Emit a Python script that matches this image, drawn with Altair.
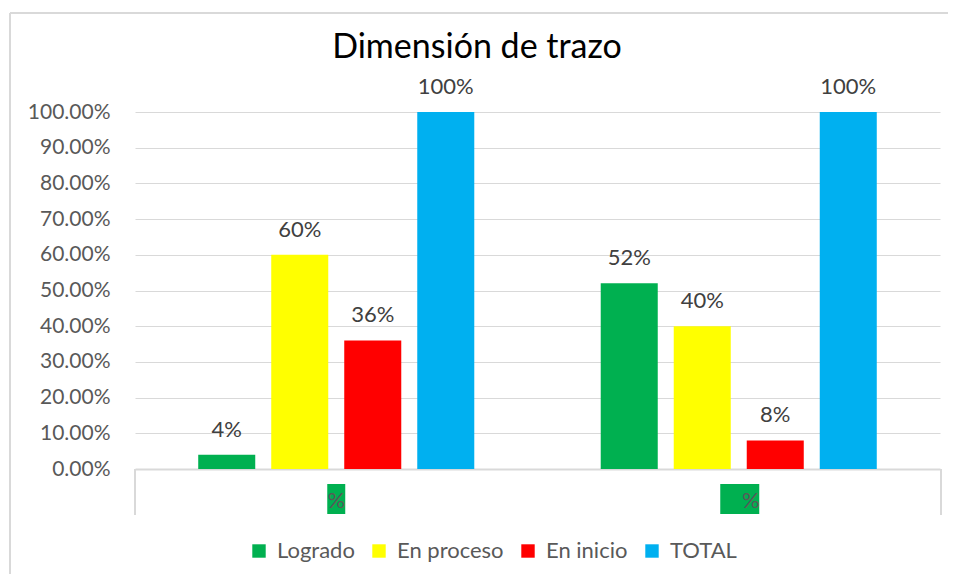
import altair as alt
import pandas as pd

groups = ["G1", "G2"]
group_labels = ["%", "%"]
series = ["Logrado", "En proceso", "En inicio", "TOTAL"]
colors = ["#00B050", "#FFFF00", "#FF0000", "#00B0F0"]
values_g1 = [0.04, 0.60, 0.36, 1.00]
values_g2 = [0.52, 0.40, 0.08, 1.00]
y_ticks = [0.0, 0.1, 0.2, 0.3, 0.4, 0.5, 0.6, 0.7, 0.8, 0.9, 1.0]
title_text = "Dimensión de trazo"

rows = []
for g, vals in zip(groups, [values_g1, values_g2]):
    for s, v in zip(series, vals):
        rows.append({"group": g, "series": s, "value": v})
df = pd.DataFrame(rows)
lab_df = pd.DataFrame({"group": groups, "label": group_labels})

W, H = 805, 357
FONT = "Lato"
GRAY = "#595959"

x_enc = alt.X("group:N", sort=groups,
              scale=alt.Scale(paddingInner=0, paddingOuter=0),
              axis=alt.Axis(title=None, labels=False, ticks=False,
                            domainColor="#d9d9d9", domainWidth=2, grid=False))
xoff = alt.XOffset("series:N", sort=series,
                   scale=alt.Scale(paddingInner=0.219, paddingOuter=0.866))
y_enc = alt.Y("value:Q",
              scale=alt.Scale(domain=[0, 1]),
              axis=alt.Axis(title=None, format=".2%", values=y_ticks,
                            labelOverlap=False, labelFlush=False,
                            domain=False, ticks=False, labelPadding=25,
                            labelFontSize=21, labelColor=GRAY, labelFont=FONT,
                            gridColor="#d9d9d9", gridWidth=1))

base = alt.Chart(df)

bars = base.mark_bar().encode(
    x=x_enc, xOffset=xoff, y=y_enc,
    color=alt.Color("series:N", sort=series,
                    scale=alt.Scale(domain=series, range=colors),
                    legend=alt.Legend(title=None, orient="none", direction="horizontal",
                                      legendX=113, legendY=428, symbolType="square",
                                      symbolSize=180, symbolStrokeWidth=0,
                                      labelFontSize=22, labelColor=GRAY, labelFont=FONT,
                                      labelOffset=7, columnPadding=13)),
)

bar_labels = base.mark_text(baseline="alphabetic", dy=-18, fontSize=22,
                            color="#404040", font=FONT).encode(
    x=x_enc, xOffset=xoff, y=y_enc,
    text=alt.Text("value:Q", format=".0%"),
)

lab_base = alt.Chart(lab_df)
box1 = lab_base.transform_filter(alt.datum.group == groups[0]).mark_bar(
    width=18, color="#00B050").encode(
    x=x_enc, y=alt.value(372), y2=alt.value(402))
box2 = lab_base.transform_filter(alt.datum.group == groups[1]).mark_bar(
    width=39, xOffset=1, color="#00B050").encode(
    x=x_enc, y=alt.value(372), y2=alt.value(402))
txt1 = lab_base.transform_filter(alt.datum.group == groups[0]).mark_text(
    fontSize=22, color=GRAY, font=FONT, baseline="alphabetic").encode(
    x=x_enc, y=alt.value(396), text="label:N")
txt2 = lab_base.transform_filter(alt.datum.group == groups[1]).mark_text(
    fontSize=22, color=GRAY, font=FONT, baseline="alphabetic", dx=12).encode(
    x=x_enc, y=alt.value(396), text="label:N")

one = alt.Data(values=[{}])
end_ticks_l = alt.Chart(one).mark_rule(color="#d9d9d9", strokeWidth=2).encode(
    x=alt.value(0), y=alt.value(H), y2=alt.value(H + 46))
end_ticks_r = alt.Chart(one).mark_rule(color="#d9d9d9", strokeWidth=2).encode(
    x=alt.value(W + 1), y=alt.value(H), y2=alt.value(H + 46))
border_v = alt.Chart(one).mark_rule(color="#d9d9d9", strokeWidth=2).encode(
    x=alt.value(-125), y=alt.value(-99), y2=alt.value(480))
border_h = alt.Chart(one).mark_rule(color="#d9d9d9", strokeWidth=2).encode(
    x=alt.value(-125), x2=alt.value(830), y=alt.value(-99))
title = alt.Chart(one).mark_text(fontSize=34, color="#000000", font=FONT,
                                 baseline="alphabetic", align="center").encode(
    x=alt.value(342), y=alt.value(-54), text=alt.value(title_text))

chart = alt.layer(
    bars, bar_labels, box1, box2, txt1, txt2,
    end_ticks_l, end_ticks_r, border_v, border_h, title
).properties(
    width=W, height=H,
    autosize=alt.AutoSizeParams(type="none"),
    padding={"left": 127, "top": 104, "right": 8, "bottom": 105},
).configure(background="white").configure_view(stroke="transparent", strokeWidth=0)

chart.save("out.html", embed_options={"renderer": "svg", "actions": False})
